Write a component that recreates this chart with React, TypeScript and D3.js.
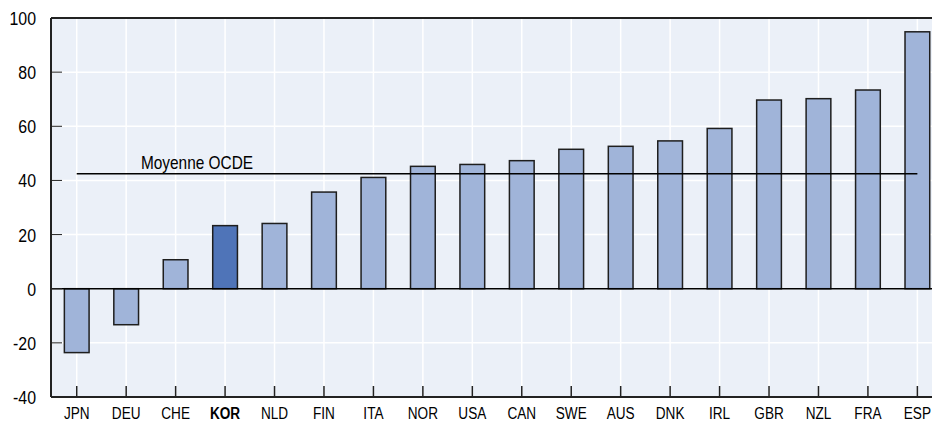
import { useEffect, useRef } from "react";
import * as d3 from "d3";

const countries = ["JPN", "DEU", "CHE", "KOR", "NLD", "FIN", "ITA", "NOR", "USA", "CAN", "SWE", "AUS", "DNK", "IRL", "GBR", "NZL", "FRA", "ESP"];
const values = [-23.6, -13.3, 10.7, 23.3, 24.1, 35.7, 41.1, 45.2, 45.9, 47.3, 51.5, 52.6, 54.6, 59.2, 69.7, 70.2, 73.4, 94.9];
const highlight = "KOR";
const oecdMean = 42.5;
const yTicks = [-40, -20, 0, 20, 40, 60, 80, 100];

export default function App() {
  const ref = useRef<SVGSVGElement>(null);

  useEffect(() => {
    document.body.style.margin = "0";
    if (!ref.current) return;
    const svg = d3.select(ref.current);
    svg.selectAll("*").remove();

    const width = 932;
    const height = 423;
    const left = 51;
    const top = 18;
    const bottom = 397;
    const right = 942;
    // no narrow font installed, so squeeze Liberation Sans horizontally
    const font = "'Liberation Sans', Arial, sans-serif";

    const x = d3.scaleBand<string>().domain(countries).range([52, 52 + 18 * 49.45]).paddingInner(0.5).paddingOuter(0.25);
    const y = d3.scaleLinear().domain([-40, 100]).range([bottom, top]);
    const center = (c: string) => (x(c) ?? 0) + x.bandwidth() / 2;

    svg.attr("width", width).attr("height", height);

    // Plot background
    svg.append("rect").attr("x", left).attr("y", top).attr("width", right - left).attr("height", bottom - top).attr("fill", "#ebf0f8");

    // Gridlines
    svg
      .append("g")
      .selectAll("line")
      .data(yTicks)
      .join("line")
      .attr("x1", left)
      .attr("x2", right)
      .attr("y1", (d) => y(d))
      .attr("y2", (d) => y(d))
      .attr("stroke", "#ffffff")
      .attr("stroke-width", 1.5);

    svg
      .append("g")
      .selectAll("line")
      .data(countries)
      .join("line")
      .attr("x1", (d) => center(d))
      .attr("x2", (d) => center(d))
      .attr("y1", top)
      .attr("y2", bottom)
      .attr("stroke", "#ffffff")
      .attr("stroke-width", 1.5);

    // Bars
    svg
      .append("g")
      .selectAll("rect")
      .data(countries)
      .join("rect")
      .attr("x", (d) => x(d) ?? 0)
      .attr("width", x.bandwidth())
      .attr("y", (_, i) => y(Math.max(0, values[i])))
      .attr("height", (_, i) => Math.abs(y(values[i]) - y(0)))
      .attr("fill", (d) => (d === highlight ? "#4f74b8" : "#a0b4d9"))
      .attr("stroke", "#1e1e1e")
      .attr("stroke-width", 1.5);

    // Zero line
    svg.append("line").attr("x1", left).attr("x2", right).attr("y1", y(0)).attr("y2", y(0)).attr("stroke", "#000").attr("stroke-width", 1.5);

    // OECD mean
    svg
      .append("line")
      .attr("x1", center(countries[0]))
      .attr("x2", center(countries[countries.length - 1]))
      .attr("y1", y(oecdMean))
      .attr("y2", y(oecdMean))
      .attr("stroke", "#000")
      .attr("stroke-width", 1.5);
    svg
      .append("text")
      .attr("transform", `translate(141,${y(oecdMean) - 5}) scale(0.88,1)`)
      .attr("font-family", font)
      .attr("font-size", 17.5)
      .attr("fill", "#000")
      .text("Moyenne OCDE");

    // Frame
    svg.append("line").attr("x1", left).attr("x2", right).attr("y1", top).attr("y2", top).attr("stroke", "#222").attr("stroke-width", 2);
    svg.append("line").attr("x1", left).attr("x2", right).attr("y1", bottom).attr("y2", bottom).attr("stroke", "#222").attr("stroke-width", 2);
    svg.append("line").attr("x1", left).attr("x2", left).attr("y1", top).attr("y2", bottom).attr("stroke", "#222").attr("stroke-width", 2);

    // Y ticks
    const yg = svg.append("g");
    yg.selectAll("line")
      .data(yTicks)
      .join("line")
      .attr("x1", left)
      .attr("x2", left + 11)
      .attr("y1", (d) => y(d))
      .attr("y2", (d) => y(d))
      .attr("stroke", "#222")
      .attr("stroke-width", 1);
    yg.selectAll("text")
      .data(yTicks)
      .join("text")
      .attr("transform", (d) => `translate(36,${y(d) + 7}) scale(0.86,1)`)
      .attr("text-anchor", "end")
      .attr("font-family", font)
      .attr("font-size", 18.5)
      .attr("fill", "#000")
      .text((d) => d);

    // X ticks
    const xg = svg.append("g");
    xg.selectAll("line")
      .data(countries)
      .join("line")
      .attr("x1", (d) => center(d))
      .attr("x2", (d) => center(d))
      .attr("y1", bottom)
      .attr("y2", bottom - 11)
      .attr("stroke", "#222")
      .attr("stroke-width", 1.5);
    xg.selectAll("text")
      .data(countries)
      .join("text")
      .attr("transform", (d) => `translate(${center(d)},419) scale(0.8,1)`)
      .attr("text-anchor", "middle")
      .attr("font-family", font)
      .attr("font-size", 17)
      .attr("font-weight", (d) => (d === highlight ? "bold" : "normal"))
      .attr("fill", "#000")
      .text((d) => d);
  }, []);

  return <svg ref={ref} style={{ display: "block" }} />;
}
